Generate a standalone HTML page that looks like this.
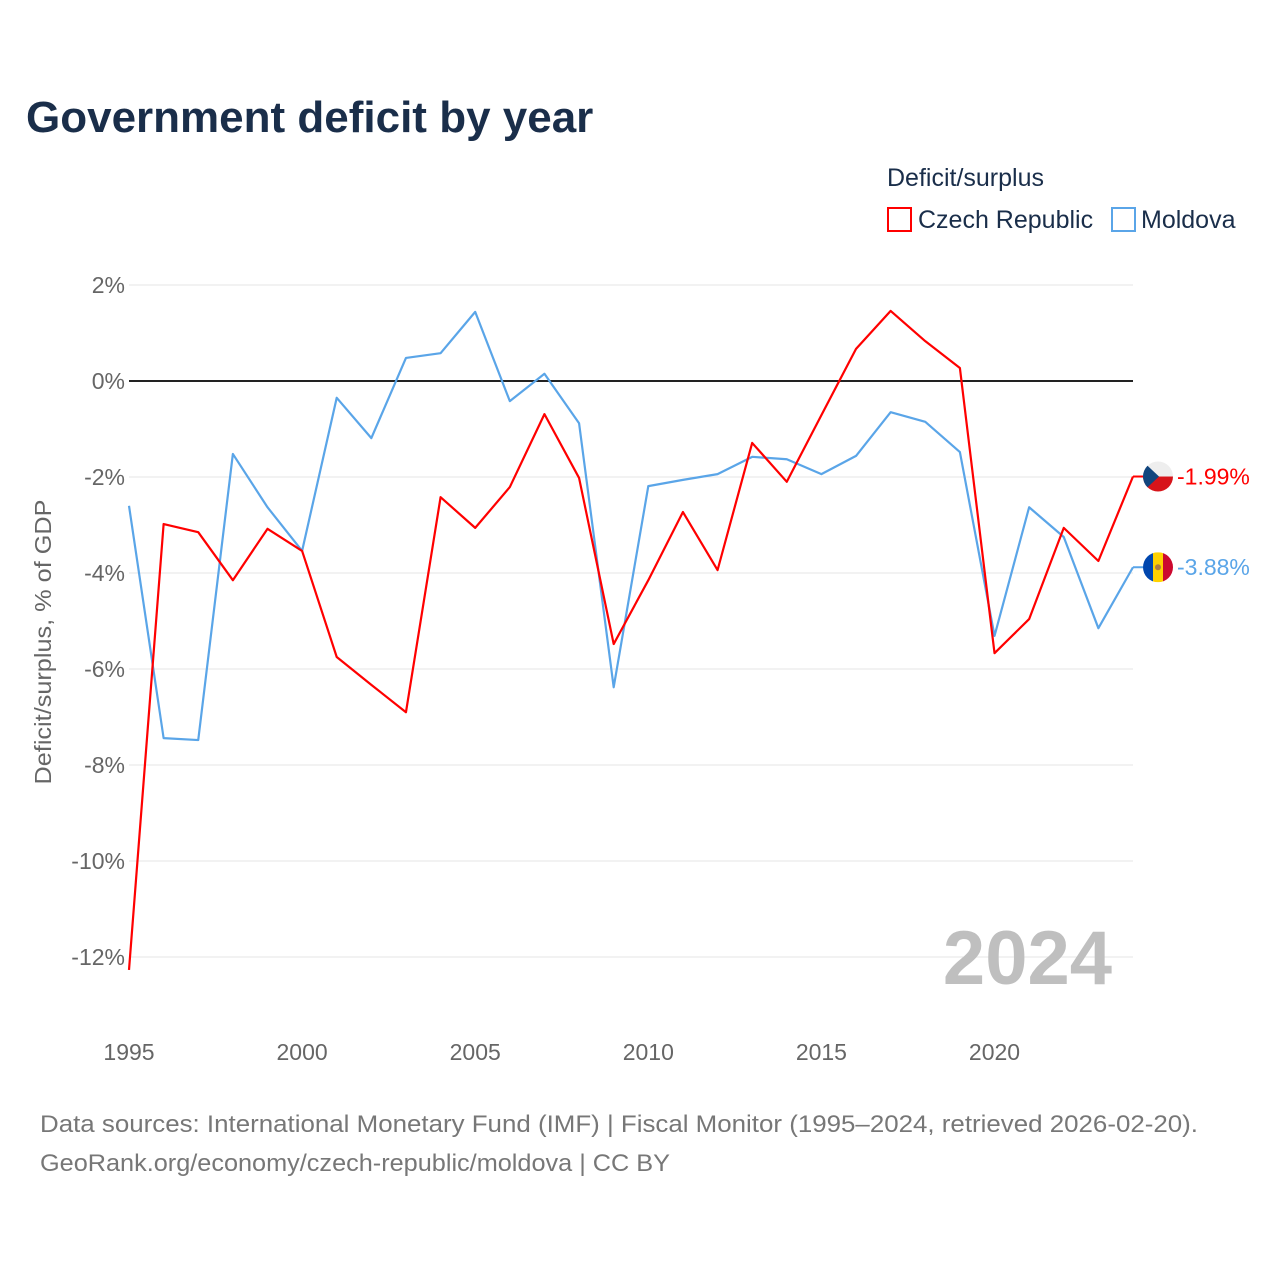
<!DOCTYPE html>
<html><head><meta charset="utf-8"><style>
body{margin:0;background:#fff;font-family:"Liberation Sans",sans-serif;}
svg text{font-family:"Liberation Sans",sans-serif;}
</style></head><body>
<svg id="chart" width="1280" height="1280" xmlns="http://www.w3.org/2000/svg">
<text x="26" y="132" font-size="44" font-weight="bold" fill="#1a2e4a">Government deficit by year</text>
<text x="887" y="186" font-size="25" fill="#1a2e4a">Deficit/surplus</text>
<g><rect x="888" y="208" width="23" height="23" fill="none" stroke="#ff0000" stroke-width="2"/><text x="918" y="228" font-size="25" fill="#1a2e4a">Czech Republic</text></g>
<g><rect x="1112" y="208" width="23" height="23" fill="none" stroke="#5aa5e8" stroke-width="2"/><text x="1141" y="228" font-size="25" fill="#1a2e4a">Moldova</text></g>
<text transform="translate(51,642) rotate(-90)" text-anchor="middle" font-size="23" fill="#666" textLength="285" lengthAdjust="spacingAndGlyphs">Deficit/surplus, % of GDP</text>
<g id="grid"></g><g id="series"></g>
<text x="1112" y="984" text-anchor="end" font-size="76" font-weight="bold" fill="#bfbfbf">2024</text>
<text x="40" y="1132" font-size="24" fill="#777" textLength="1158" lengthAdjust="spacingAndGlyphs">Data sources: International Monetary Fund (IMF) | Fiscal Monitor (1995–2024, retrieved 2026-02-20).</text>
<text x="40" y="1171" font-size="24" fill="#777" textLength="630" lengthAdjust="spacingAndGlyphs">GeoRank.org/economy/czech-republic/moldova | CC BY</text>
</svg>
<script>
const years=[];for(let y=1995;y<=2024;y++)years.push(y);
const czech=[-12.27,-2.98,-3.15,-4.15,-3.08,-3.54,-5.75,-6.33,-6.9,-2.42,-3.06,-2.21,-0.69,-2.02,-5.48,-4.15,-2.73,-3.94,-1.29,-2.1,-0.71,0.67,1.46,0.83,0.27,-5.67,-4.96,-3.06,-3.75,-1.99];
const moldova=[-2.6,-7.44,-7.48,-1.52,-2.63,-3.54,-0.35,-1.19,0.48,0.58,1.44,-0.42,0.15,-0.88,-6.38,-2.19,-2.06,-1.94,-1.58,-1.63,-1.94,-1.56,-0.65,-0.85,-1.48,-5.31,-2.63,-3.25,-5.15,-3.88];
const yTicks=[2,0,-2,-4,-6,-8,-10,-12];
const xTicks=[1995,2000,2005,2010,2015,2020];
const NS="http://www.w3.org/2000/svg";
const X=v=>129+(v-1995)*(1133-129)/29;
const Y=v=>381-v*48;
function mk(t,a,p){const e=document.createElementNS(NS,t);for(const k in a)e.setAttribute(k,a[k]);p.appendChild(e);return e;}
const g=document.getElementById('grid'),s=document.getElementById('series');
yTicks.forEach(t=>{
 const l=mk('line',{x1:129,x2:1133,y1:Y(t),y2:Y(t),stroke:t===0?'#222':'#e6e6e6','stroke-width':t===0?2:1},g);
 
 
 const tx=mk('text',{x:125,y:Y(t)+8,'text-anchor':'end','font-size':23,fill:'#666'},g);
 tx.textContent=t+'%';
 
 
});
xTicks.forEach(t=>{
 const tx=mk('text',{x:X(t),y:1060,'text-anchor':'middle','font-size':23,fill:'#666'},g);
 tx.textContent=t;
 
 
});
function line(vals,color,name){
 const p=mk('polyline',{points:vals.map((v,i)=>X(years[i])+','+Y(v)).join(' '),fill:'none',stroke:color,'stroke-width':2.2,'stroke-linejoin':'round'},s);
 
 
}
line(moldova,'#5aa5e8','moldova-line');
line(czech,'#ff0000','czech-line');
function endLabel(v,color,name,flag){
 const x=X(2024),y=Y(v);
 const fg=mk('g',{},s);
 
 
 const cp=mk('clipPath',{id:name+'c'},fg);mk('circle',{cx:x+25,cy:y,r:15},cp);
 const gg=mk('g',{'clip-path':'url(#'+name+'c)'},fg);
 if(flag==='cz'){mk('rect',{x:x+10,y:y-15,width:30,height:15,fill:'#eee'},gg);mk('rect',{x:x+10,y:y,width:30,height:15,fill:'#d7141a'},gg);mk('polygon',{points:(x+10)+','+(y-15)+' '+(x+26)+','+y+' '+(x+10)+','+(y+15),fill:'#11457e'},gg);}
 else{mk('rect',{x:x+10,y:y-15,width:10,height:30,fill:'#0046ae'},gg);mk('rect',{x:x+20,y:y-15,width:10,height:30,fill:'#ffd200'},gg);mk('rect',{x:x+30,y:y-15,width:10,height:30,fill:'#cc092f'},gg);mk('circle',{cx:x+25,cy:y,r:3,fill:'#b07e40'},gg);}
 mk('line',{x1:x,x2:x+10,y1:y,y2:y,stroke:color,'stroke-width':2},fg);
 const t=mk('text',{x:x+44,y:y+8,'font-size':23,fill:color},s);
 t.textContent=v.toFixed(2)+'%';
 
 
}
endLabel(czech[czech.length-1],'#ff0000','czech','cz');
endLabel(moldova[moldova.length-1],'#5aa5e8','moldova','md');
</script>
</body></html>
